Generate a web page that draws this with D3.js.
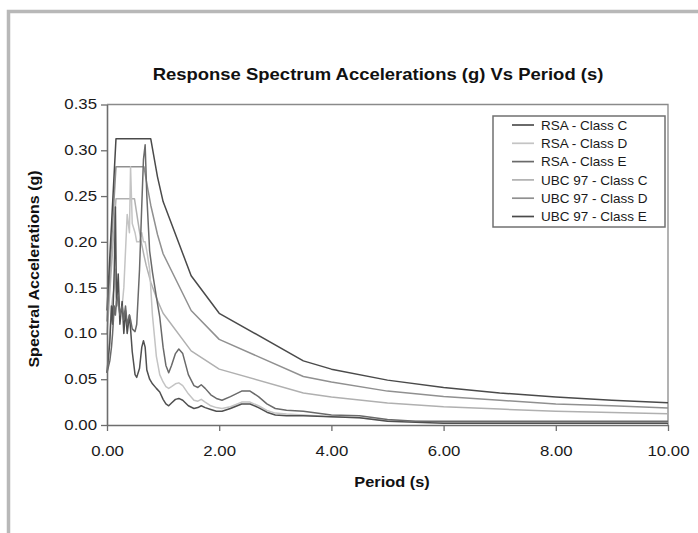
<!DOCTYPE html>
<html>
<head>
<meta charset="utf-8">
<script src="https://cdn.jsdelivr.net/npm/d3@7"></script>
<style>
  body { margin: 0; background: #fff; }
  text { font-family: Arial, "Liberation Sans", sans-serif; }
</style>
</head>
<body>
<svg></svg>
<script>
//chart data
const seriesNames = ["RSA - Class C", "RSA - Class D", "RSA - Class E",
                     "UBC 97 - Class C", "UBC 97 - Class D", "UBC 97 - Class E"];
const seriesColors = ["#505050", "#c4c4c4", "#6a6a6a", "#b0b0b0", "#909090", "#4a4a4a"];

const rsaPeriods = [0, 0.05, 0.08, 0.1, 0.13, 0.15, 0.17, 0.2, 0.23, 0.27, 0.3, 0.33, 0.36, 0.4, 0.42,
  0.45, 0.5, 0.53, 0.58, 0.62, 0.65, 0.68, 0.71, 0.76, 0.81, 0.88, 0.94, 1.0, 1.05, 1.1, 1.15, 1.22,
  1.28, 1.35, 1.45, 1.55, 1.62, 1.68, 1.75, 1.85, 1.95, 2.05, 2.2, 2.4, 2.55, 2.7, 2.85, 3.0, 3.2,
  3.5, 4.0, 4.5, 5.0, 5.5, 6.0, 8.0, 10.0];
const rsaClassC = [0.057, 0.09, 0.13, 0.11, 0.17, 0.238, 0.13, 0.165, 0.11, 0.135, 0.10, 0.125, 0.10, 0.12, 0.105,
  0.08, 0.055, 0.052, 0.062, 0.085, 0.092, 0.085, 0.06, 0.05, 0.045, 0.04, 0.036, 0.028, 0.023, 0.021, 0.024, 0.028,
  0.029, 0.027, 0.021, 0.018, 0.019, 0.021, 0.019, 0.017, 0.015, 0.015, 0.018, 0.023, 0.023, 0.019, 0.014, 0.011, 0.010,
  0.010, 0.009, 0.008, 0.004, 0.003, 0.002, 0.002, 0.002];
const rsaClassD = [0.057, 0.10, 0.13, 0.14, 0.15, 0.17, 0.14, 0.13, 0.12, 0.13, 0.15, 0.19, 0.23, 0.21, 0.282,
  0.22, 0.21, 0.20, 0.20, 0.21, 0.20, 0.20, 0.19, 0.17, 0.12, 0.075, 0.055, 0.047, 0.042, 0.040, 0.042, 0.045,
  0.046, 0.043, 0.034, 0.027, 0.026, 0.028, 0.025, 0.021, 0.019, 0.018, 0.020, 0.025, 0.025, 0.021, 0.016, 0.013, 0.012,
  0.011, 0.009, 0.008, 0.005, 0.004, 0.003, 0.003, 0.003];
const rsaClassE = [0.057, 0.07, 0.085, 0.10, 0.13, 0.12, 0.135, 0.14, 0.12, 0.13, 0.115, 0.13, 0.11, 0.12, 0.115,
  0.105, 0.102, 0.11, 0.17, 0.24, 0.29, 0.306, 0.25, 0.19, 0.167, 0.14, 0.118, 0.085, 0.065, 0.057, 0.065, 0.078,
  0.083, 0.078, 0.055, 0.043, 0.041, 0.044, 0.04, 0.033, 0.029, 0.027, 0.031, 0.037, 0.037, 0.031, 0.023, 0.018, 0.016,
  0.015, 0.011, 0.010, 0.006, 0.004, 0.004, 0.004, 0.004];

const ubcPeriods = [0, 0.16, 0.49, 0.6, 0.66, 0.7, 0.78, 0.9, 1.0, 1.5, 2.0, 3.5, 4.0, 5.0, 6.0, 7.0, 8.0, 9.0, 10.0];
const ubcClassC = [0.099, 0.247, 0.247, 0.203, 0.185, 0.174, 0.156, 0.136, 0.122, 0.081, 0.061, 0.035, 0.0305,
  0.024, 0.020, 0.0174, 0.015, 0.0136, 0.0122];
const ubcClassD = [0.113, 0.282, 0.282, 0.282, 0.282, 0.267, 0.240, 0.208, 0.187, 0.125, 0.0935, 0.053, 0.047,
  0.037, 0.031, 0.027, 0.023, 0.021, 0.0187];
const ubcClassE = [0.125, 0.3125, 0.3125, 0.3125, 0.3125, 0.3125, 0.3125, 0.271, 0.244, 0.163, 0.122, 0.070, 0.061,
  0.049, 0.041, 0.035, 0.0305, 0.027, 0.0244];

const xTicks = [0, 2, 4, 6, 8, 10];
const yTicks = [0, 0.05, 0.10, 0.15, 0.20, 0.25, 0.30, 0.35];

//Set the dimensions of the SVG container
const width = 698;
const height = 533;
const plot = { left: 107, right: 668, top: 104.5, bottom: 425 };

const svg = d3.select("svg")
  .attr("width", width)
  .attr("height", height);

//outer frame (only left and top edges show)
svg.append("rect")
  .attr("x", 8.5).attr("y", 11.5)
  .attr("width", 900).attr("height", 900)
  .attr("fill", "none")
  .attr("stroke", "#b8b8b8")
  .attr("stroke-width", 3.5);

//scales
const x = d3.scaleLinear().domain([0, 10]).range([plot.left, plot.right]);
const y = d3.scaleLinear().domain([0, 0.35]).range([plot.bottom, plot.top]);

//plot border, top and right
svg.append("path")
  .attr("d", `M${plot.left},${plot.top}H${plot.right}V${plot.bottom}`)
  .attr("fill", "none")
  .attr("stroke", "#8a8a8a")
  .attr("stroke-width", 1.3);

//series
const series = [
  { periods: rsaPeriods, values: rsaClassC },
  { periods: rsaPeriods, values: rsaClassD },
  { periods: rsaPeriods, values: rsaClassE },
  { periods: ubcPeriods, values: ubcClassC },
  { periods: ubcPeriods, values: ubcClassD },
  { periods: ubcPeriods, values: ubcClassE }
];

const line = d3.line()
  .x(d => x(d[0]))
  .y(d => y(d[1]));

//draw in back-to-front order so the dark lines end on top
const drawOrder = [3, 4, 1, 0, 2, 5];
drawOrder.forEach(i => {
  const s = series[i];
  svg.append("path")
    .datum(d3.zip(s.periods, s.values))
    .attr("d", line)
    .attr("fill", "none")
    .attr("stroke", seriesColors[i])
    .attr("stroke-width", 1.5)
    .attr("stroke-linejoin", "round");
});

//axes
const xAxis = svg.append("g")
  .attr("transform", `translate(0,${plot.bottom})`)
  .call(d3.axisBottom(x).tickValues(xTicks).tickFormat(d3.format(".2f")).tickSize(6).tickSizeOuter(0));
const yAxis = svg.append("g")
  .attr("transform", `translate(${plot.left},0)`)
  .call(d3.axisLeft(y).tickValues(yTicks).tickFormat(d3.format(".2f")).tickSize(6).tickSizeOuter(0));

[xAxis, yAxis].forEach(g => {
  g.select(".domain").attr("stroke", "#6e6e6e").attr("stroke-width", 1.6);
  g.selectAll(".tick line").attr("stroke", "#6e6e6e").attr("stroke-width", 1.3);
  g.selectAll(".tick text")
    .attr("fill", "#1a1a1a")
    .style("font-size", "14px")
    .style("font-family", "Arial, 'Liberation Sans', sans-serif");
});
//tick labels in the picture are a little wide
xAxis.selectAll(".tick text")
  .attr("y", 26).attr("dy", "0.35em")
  .attr("transform", "scale(1.2,1)");
yAxis.selectAll(".tick text")
  .attr("x", 0)
  .attr("transform", "translate(-10,0) scale(1.2,1)");

//title and axis labels
svg.append("text")
  .attr("transform", "translate(378,80) scale(1.12,1)")
  .attr("text-anchor", "middle")
  .attr("font-size", 16.5)
  .attr("font-weight", "bold")
  .attr("fill", "#111")
  .text("Response Spectrum Accelerations (g) Vs Period (s)");

svg.append("text")
  .attr("transform", "translate(392,486.5) scale(1.09,1)")
  .attr("text-anchor", "middle")
  .attr("font-size", 15)
  .attr("font-weight", "bold")
  .attr("fill", "#111")
  .text("Period (s)");

svg.append("text")
  .attr("transform", "translate(38.5,269) rotate(-90) scale(1.07,1)")
  .attr("text-anchor", "middle")
  .attr("font-size", 15)
  .attr("font-weight", "bold")
  .attr("fill", "#111")
  .text("Spectral Accelerations (g)");

//legend
const legend = svg.append("g");
legend.append("rect")
  .attr("x", 493).attr("y", 116)
  .attr("width", 172).attr("height", 111)
  .attr("fill", "#fff")
  .attr("stroke", "#707070")
  .attr("stroke-width", 1.5);

seriesNames.forEach((name, i) => {
  const ly = 125 + i * 18.3;
  legend.append("line")
    .attr("x1", 512).attr("x2", 534)
    .attr("y1", ly).attr("y2", ly)
    .attr("stroke", seriesColors[i])
    .attr("stroke-width", 1.7);
  legend.append("text")
    .attr("x", 541).attr("y", ly)
    .attr("dy", "0.35em")
    .attr("font-size", 13.5)
    .attr("fill", "#1a1a1a")
    .text(name);
});
</script>
</body>
</html>
